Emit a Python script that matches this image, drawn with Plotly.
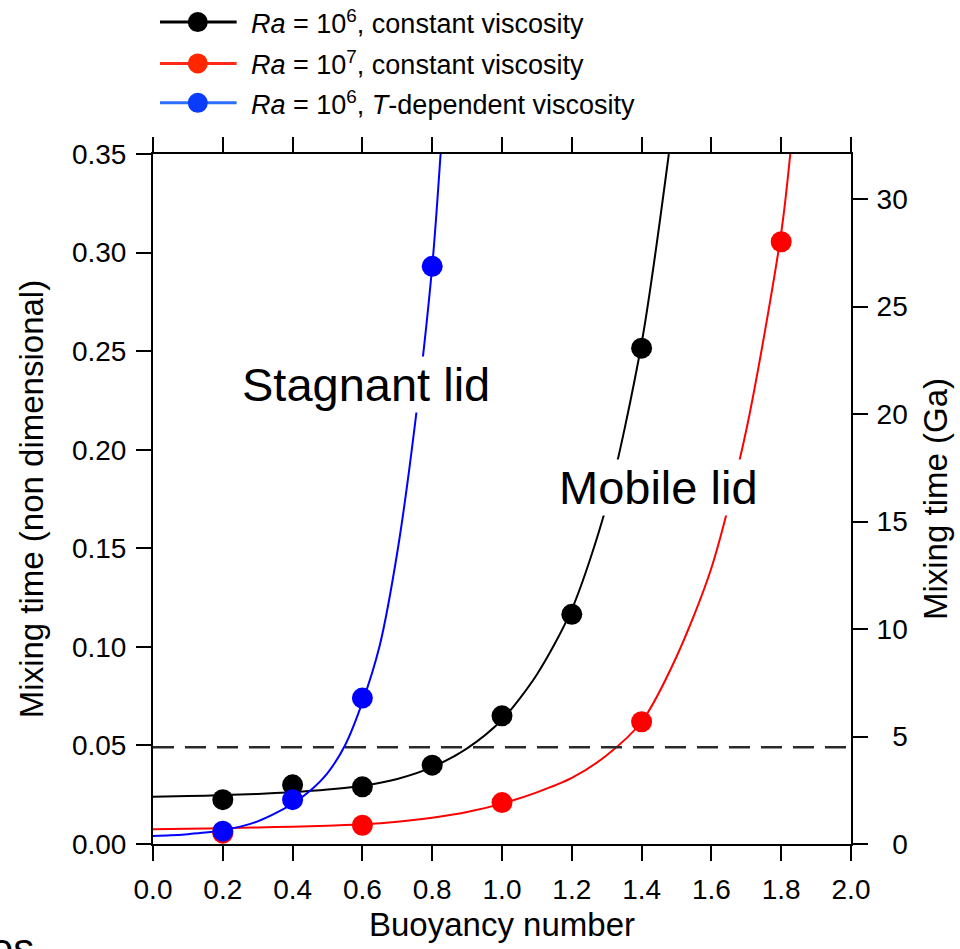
import plotly.graph_objects as go

# Simulation results: mixing time (non-dimensional) versus buoyancy number
buoyancy_black = [0.2, 0.4, 0.6, 0.8, 1.0, 1.2, 1.4]
mixing_black = [0.0225, 0.030, 0.029, 0.040, 0.065, 0.1165, 0.2515]

buoyancy_red = [0.2, 0.6, 1.0, 1.4, 1.8]
mixing_red = [0.0055, 0.0095, 0.021, 0.062, 0.3055]

buoyancy_blue = [0.2, 0.4, 0.6, 0.8]
mixing_blue = [0.0065, 0.0225, 0.074, 0.293]

# Fitted curves, sampled along their length
fit_x_black = [0.0, 0.1, 0.2, 0.3, 0.4, 0.5, 0.6, 0.7, 0.8, 0.9, 1.0, 1.1, 1.2, 1.3, 1.4, 1.478]
fit_y_black = [0.0240, 0.0243, 0.0248, 0.0254, 0.0263, 0.0276, 0.0295, 0.0330, 0.0390,
               0.0485, 0.0630, 0.0860, 0.1190, 0.1720, 0.2540, 0.35]

fit_x_red = [0.0, 0.1, 0.2, 0.3, 0.4, 0.5, 0.6, 0.7, 0.8, 0.9, 1.0, 1.1, 1.2, 1.3, 1.4,
             1.5, 1.6, 1.7, 1.8, 1.826]
fit_y_red = [0.0075, 0.0077, 0.0080, 0.0084, 0.0088, 0.0093, 0.0100, 0.0113, 0.0133, 0.0162,
             0.0205, 0.0262, 0.0335, 0.0450, 0.0620, 0.0950, 0.1400, 0.2100, 0.3100, 0.35]

fit_x_blue = [0.0, 0.05, 0.1, 0.15, 0.2, 0.25, 0.3, 0.35, 0.4, 0.45, 0.5, 0.55, 0.6, 0.65,
              0.7, 0.75, 0.8, 0.824]
fit_y_blue = [0.0040, 0.0044, 0.0050, 0.0058, 0.0070, 0.0088, 0.0115, 0.0155, 0.0205, 0.0270,
              0.0360, 0.0500, 0.0720, 0.1010, 0.1480, 0.2120, 0.2930, 0.35]

# Axis settings
x_ticks = [0.0, 0.2, 0.4, 0.6, 0.8, 1.0, 1.2, 1.4, 1.6, 1.8, 2.0]
y_ticks = [0.00, 0.05, 0.10, 0.15, 0.20, 0.25, 0.30, 0.35]
ga_ticks = [0, 5, 10, 15, 20, 25, 30]
ga_ticktext = ["\u00a0\u00a00", "\u00a0\u00a05", "10", "15", "20", "25", "30"]
y_range = [0.0, 0.35]
ga_range = [0.0, 32.1]          # same extent expressed in Ga
earth_age_ga = 4.5

legend_labels = [
    "<i>Ra</i> = 10<sup>6</sup>, constant viscosity",
    "<i>Ra</i> = 10<sup>7</sup>, constant viscosity",
    "<i>Ra</i> = 10<sup>6</sup>, <i>T</i>-dependent viscosity",
]

FONT = "Liberation Sans, Arial, Helvetica, sans-serif"
BLACK, RED, BLUE = "#000000", "#ff0000", "#0000ff"
LEG_LINE = ["#000000", "#ff2a1a", "#2a6dff"]
LEG_MARK = ["#000000", "#ff2600", "#0a3cff"]

W, H = 960, 949
ML, MR, MT, MB = 153, 106, 154, 94
PW, PH = W - ML - MR, H - MT - MB


def px_x(px):
    return (px - ML) / PW


def px_y(py):
    return (H - MB - py) / PH


fig = go.Figure()

# 4.5 Ga reference line on the Ga axis
fig.add_trace(go.Scatter(
    x=[x_ticks[0], x_ticks[-1]], y=[earth_age_ga, earth_age_ga], yaxis="y2",
    mode="lines", line=dict(color="#2a2a2a", width=2.5, dash="21px,11px"),
    hoverinfo="skip", showlegend=False,
))

for fx, fy, col in [(fit_x_black, fit_y_black, BLACK),
                    (fit_x_red, fit_y_red, RED),
                    (fit_x_blue, fit_y_blue, BLUE)]:
    fig.add_trace(go.Scatter(
        x=fx, y=fy, mode="lines",
        line=dict(color=col, width=2, shape="spline", smoothing=0.8),
        hoverinfo="skip", showlegend=False,
    ))

for bx, by, col, name in [(buoyancy_black, mixing_black, BLACK, legend_labels[0]),
                          (buoyancy_red, mixing_red, RED, legend_labels[1]),
                          (buoyancy_blue, mixing_blue, BLUE, legend_labels[2])]:
    fig.add_trace(go.Scatter(
        x=bx, y=by, mode="markers", name=name,
        marker=dict(color=col, size=21, line=dict(width=0)),
        cliponaxis=False, showlegend=False,
    ))

# Key drawn above the plot
shapes = []
annotations = []
row_py = [20, 62, 102]
for i, py in enumerate(row_py):
    yp = px_y(py)
    shapes.append(dict(type="line", xref="paper", yref="paper",
                       x0=px_x(160), x1=px_x(237), y0=yp, y1=yp,
                       line=dict(color=LEG_LINE[i], width=3)))
    shapes.append(dict(type="circle", xref="paper", yref="paper",
                       xsizemode="pixel", ysizemode="pixel",
                       xanchor=px_x(198), yanchor=yp,
                       x0=-10, x1=10, y0=-10, y1=10,
                       fillcolor=LEG_MARK[i], line=dict(width=0)))
    annotations.append(dict(xref="paper", yref="paper", x=px_x(249), y=yp,
                            xanchor="left", yanchor="middle", showarrow=False,
                            text=legend_labels[i],
                            font=dict(family=FONT, size=27, color="#000000")))

annotations.append(dict(xref="x", yref="y", x=px_x(367) * 2.0, y=0.2332,
                        text="Stagnant lid", showarrow=False, bgcolor="#ffffff",
                        font=dict(family=FONT, size=47, color="#000000")))
annotations.append(dict(xref="x", yref="y", x=px_x(661) * 2.0, y=0.1807,
                        text="Mobile lid", showarrow=False, bgcolor="#ffffff",
                        font=dict(family=FONT, size=47, color="#000000")))
annotations.append(dict(xref="paper", yref="paper", x=px_x(35), y=px_y(935),
                        xanchor="right", yanchor="top", text="es", showarrow=False,
                        font=dict(family=FONT, size=42, color="#000000")))

axis_common = dict(
    showline=True, linecolor="#000000", linewidth=2,
    ticks="outside", ticklen=15, tickwidth=2, tickcolor="#000000",
    showgrid=False, zeroline=False,
    tickfont=dict(family=FONT, size=28, color="#000000"),
    title_font=dict(family=FONT, size=33, color="#000000"),
)

fig.update_layout(
    width=W, height=H, autosize=False,
    margin=dict(l=ML, r=MR, t=MT, b=MB, pad=0),
    paper_bgcolor="#ffffff", plot_bgcolor="#ffffff",
    showlegend=False,
    xaxis=dict(range=[0, 2.0], tickvals=x_ticks, tickformat=".1f",
               mirror="ticks", ticklabelstandoff=4,
               title=dict(text="Buoyancy number", standoff=9),
               **axis_common),
    yaxis=dict(range=y_range, tickvals=y_ticks, tickformat=".2f",
               ticklabelstandoff=4,
               title=dict(text="Mixing time (non dimensional)", standoff=18),
               **axis_common),
    yaxis2=dict(range=ga_range, tickvals=ga_ticks, ticktext=ga_ticktext,
                overlaying="y", side="right", anchor="x", ticklabelstandoff=3,
                title=dict(text="Mixing time (Ga)", standoff=17),
                **axis_common),
    shapes=shapes,
    annotations=annotations,
)

fig.write_html("out.html")
